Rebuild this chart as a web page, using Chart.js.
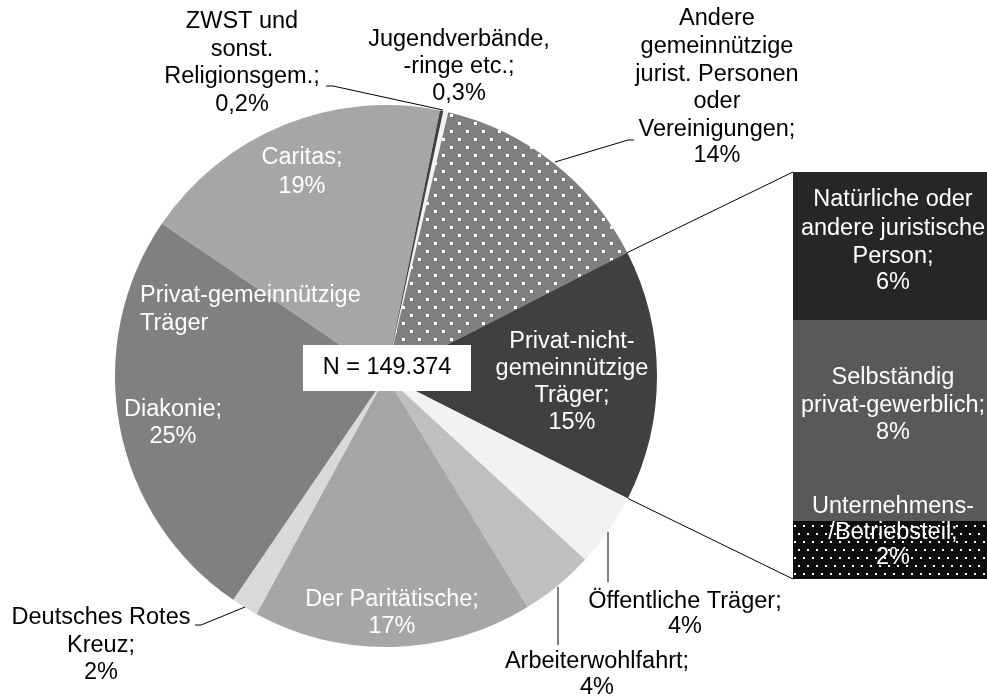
<!DOCTYPE html>
<html><head><meta charset="utf-8">
<script src="https://cdn.jsdelivr.net/npm/chart.js@4.4.1/dist/chart.umd.min.js"></script>
<style>
html,body{margin:0;padding:0;background:#fff;overflow:hidden;width:987px;height:697px;}
#wrap{position:relative;width:987px;height:697px;overflow:hidden;}
#pie{position:absolute;left:0;top:0;}
#barBox{position:absolute;left:793px;top:172px;width:200px;height:407px;}
</style></head><body>
<div id="wrap">
<canvas id="pie" width="987" height="697"></canvas>
<div id="barBox"><canvas id="bar" width="200" height="407"></canvas></div>
</div>
<script>
// ---------- DATA ----------
const pieCategories = ['Jugendverbände, -ringe etc.', 'Andere gemeinnützige jurist. Personen oder Vereinigungen',
  'Privat-nicht-gemeinnützige Träger', 'Öffentliche Träger', 'Arbeiterwohlfahrt', 'Der Paritätische',
  'Deutsches Rotes Kreuz', 'Diakonie', 'Caritas', 'ZWST und sonst. Religionsgem.'];
const pieValues = [0.3, 13.8, 15.0, 4.4, 4.4, 16.7, 1.6, 25.0, 18.7, 0.2];
const pieLabelText = [
  ['Jugendverbände,', '-ringe etc.;', '0,3%'],
  ['Andere', 'gemeinnützige', 'jurist. Personen', 'oder', 'Vereinigungen;', '14%'],
  ['Privat-nicht-', 'gemeinnützige', 'Träger;', '15%'],
  ['Öffentliche Träger;', '4%'],
  ['Arbeiterwohlfahrt;', '4%'],
  ['Der Paritätische;', '17%'],
  ['Deutsches Rotes', 'Kreuz;', '2%'],
  ['Diakonie;', '25%'],
  ['Caritas;', '19%'],
  ['ZWST und', 'sonst.', 'Religionsgem.;', '0,2%']
];
const barCategories = ['Natürliche oder andere juristische Person', 'Selbständig privat-gewerblich', 'Unternehmens-/Betriebsteil'];
const barValues = [5.4, 7.3, 2.1];
const barLabelText = [
  ['Natürliche oder', 'andere juristische', 'Person;', '6%'],
  ['Selbständig', 'privat-gewerblich;', '8%'],
  ['Unternehmens-', '/Betriebsteil;', '2%']
];
const groupLabel = ['Privat-gemeinnützige', 'Träger'];
const totalLabel = 'N = 149.374';

// ---------- STYLE ----------
const FONT = '23.5px "Liberation Sans", Arial, sans-serif';
function dots(bg, fg, size, w, h, pts) {
  const c = document.createElement('canvas'); c.width = w; c.height = h;
  const x = c.getContext('2d'); x.fillStyle = bg; x.fillRect(0, 0, w, h);
  x.fillStyle = fg; pts.forEach(p => x.fillRect(p[0], p[1], size, size));
  return x.createPattern(c, 'repeat');
}
const pctx = document.getElementById('pie').getContext('2d');
const patAndere = dots('#7f7f7f', '#ffffff', 3, 16, 16, [[2, 2], [10, 10]]);
const patUnt = dots('#0d0d0d', '#ffffff', 2, 9, 16, [[1, 1], [5, 9]]);
const pieColors = ['#f2f2f2', patAndere, '#404040', '#f2f2f2', '#bfbfbf', '#a6a6a6', '#d9d9d9', '#808080', '#a6a6a6', '#404040'];
const barColors = ['#262626', '#595959', patUnt];

// label layout (line centre positions)
const pieLabelPos = [
  {x: 459, y: [40, 67, 94], c: '#000'},
  {x: 717, y: [19, 47, 75, 102, 130, 156], c: '#000'},
  {x: 572, y: [342, 369, 396, 423], c: '#fff'},
  {x: 685, y: [602, 627], c: '#000'},
  {x: 597, y: [662, 688], c: '#000'},
  {x: 392, y: [600, 627], c: '#fff'},
  {x: 101, y: [618, 646, 673], c: '#000'},
  {x: 173, y: [410, 437], c: '#fff'},
  {x: 302, y: [158, 187], c: '#fff'},
  {x: 242, y: [22, 50, 77, 105], c: '#000'}
];
const leaders = [
  [[326, 86], [333, 86], [443, 110]],
  [[634, 140], [628, 140], [555, 162]],
  [[195, 625], [201, 625], [245, 607]],
  [[608, 532], [608, 582]],
  [[558, 587], [558, 645]]
];
const barLabelY = [[200, 229, 257, 283], [378, 406, 433], [507, 533, 558]];
const BAR_LEFT = 793, BAR_TOP = 172;

function drawLines(ctx, lines, x, ys, color, align) {
  ctx.save();
  ctx.font = FONT; ctx.fillStyle = color; ctx.textAlign = align || 'center'; ctx.textBaseline = 'middle';
  lines.forEach((t, i) => ctx.fillText(t, x, ys[i]));
  ctx.restore();
}

// ---------- BAR (pie-of-bar) ----------
const barChart = new Chart(document.getElementById('bar'), {
  type: 'bar',
  data: {
    labels: [''],
    datasets: barValues.map((v, i) => ({label: barCategories[i], data: [v], backgroundColor: barColors[i], borderWidth: 0,
      barPercentage: 1, categoryPercentage: 1})).reverse()
  },
  options: {
    responsive: false, animation: false,
    layout: {padding: 0},
    plugins: {legend: {display: false}, tooltip: {enabled: false}},
    scales: {
      x: {display: false, stacked: true},
      y: {display: false, stacked: true, min: 0, max: barValues.reduce((a, b) => a + b, 0)}
    }
  },
  plugins: [{
    id: 'barLabels',
    afterDatasetsDraw(chart) {
      const ctx = chart.ctx;
      barLabelText.forEach((lines, i) => {
        const el = chart.getDatasetMeta(barValues.length - 1 - i).data[0];
        drawLines(ctx, lines, el.x, barLabelY[i].map(y => y - BAR_TOP), '#fff');
      });
    }
  }]
});

// ---------- PIE ----------
new Chart(document.getElementById('pie'), {
  type: 'pie',
  data: {
    labels: pieCategories,
    datasets: [{data: pieValues, backgroundColor: pieColors, borderWidth: 0}]
  },
  options: {
    responsive: false, animation: false,
    rotation: 12.2,
    layout: {padding: {left: 115, right: 330, top: 105, bottom: 50}},
    plugins: {legend: {display: false}, tooltip: {enabled: false}}
  },
  plugins: [{
    id: 'pieDecor',
    afterDatasetsDraw(chart) {
      const ctx = chart.ctx;
      const arcs = chart.getDatasetMeta(0).data;
      const cx = arcs[0].x, cy = arcs[0].y;
      // connector lines to bar
      const a = arcs[2];
      const r = a.outerRadius;
      const top = barChart.getDatasetMeta(barValues.length - 1).data[0];
      const bot = barChart.getDatasetMeta(0).data[0];
      const bx = BAR_LEFT + top.x - top.width / 2;
      ctx.save();
      ctx.strokeStyle = '#000'; ctx.lineWidth = 1;
      ctx.beginPath();
      ctx.moveTo(cx + r * Math.cos(a.startAngle), cy + r * Math.sin(a.startAngle));
      ctx.lineTo(bx, BAR_TOP + top.y);
      ctx.moveTo(cx + r * Math.cos(a.endAngle), cy + r * Math.sin(a.endAngle));
      ctx.lineTo(bx, BAR_TOP + bot.base);
      leaders.forEach(l => { ctx.moveTo(l[0][0], l[0][1]); l.slice(1).forEach(p => ctx.lineTo(p[0], p[1])); });
      ctx.stroke();
      ctx.restore();
      // slice labels
      pieLabelText.forEach((lines, i) => drawLines(ctx, lines, pieLabelPos[i].x, pieLabelPos[i].y, pieLabelPos[i].c));
      drawLines(ctx, groupLabel, 140, [296, 324], '#fff', 'left');
      // N box
      ctx.save();
      ctx.fillStyle = '#fff';
      ctx.fillRect(cx - 83, cy - 31, 168, 46);
      ctx.restore();
      drawLines(ctx, [totalLabel], cx + 1, [cy - 8], '#000');
    }
  }]
});
</script>
</body></html>
